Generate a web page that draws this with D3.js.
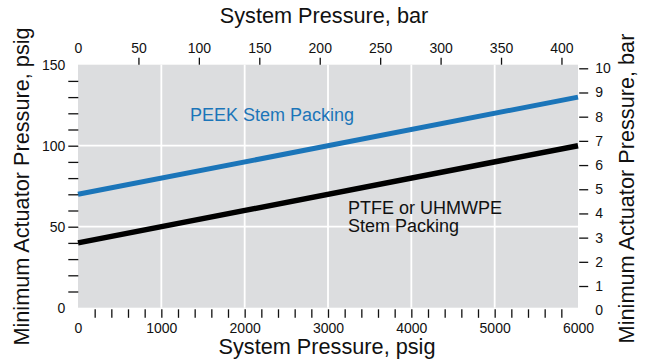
<!DOCTYPE html>
<html>
<head>
<meta charset="utf-8">
<script src="https://cdn.jsdelivr.net/npm/d3@7"></script>
<style>
  html, body { margin: 0; padding: 0; background: #fff; }
  svg { display: block; font-family: "Liberation Sans", Arial, Helvetica, sans-serif; }
</style>
</head>
<body>
<svg id="chart" width="649" height="360"></svg>
<script>
// System pressure (psig) at the ends of each straight-line requirement
const systemPsig = [0, 6000];
// Minimum actuator pressure (psig) for each packing type
const peekPsig = [70, 130];
const ptfePsig = [40, 100];

// Axis ticks and labels
const bottomTicks = d3.range(0, 6001, 200);
const bottomLabels = [0, 1000, 2000, 3000, 4000, 5000, 6000];
const topTicks = [0, 50, 100, 150, 200, 250, 300, 350, 400];
const leftTicks = d3.range(0, 151, 10);
const leftLabels = [0, 50, 100, 150];
const rightTicks = [0, 1, 2, 3, 4, 5, 6, 7, 8, 9, 10];
const gridX = [1000, 2000, 3000, 4000, 5000];
const gridY = [50, 100];

const PSI_PER_BAR = 14.5038;
const BLUE = "#1b75b9";
const INK = "#111";

const svg = d3.select("#chart");
const plot = { left: 78, right: 578, top: 64.7, bottom: 307.7 };

const x = d3.scaleLinear().domain([0, 6000]).range([plot.left, plot.right]);
const y = d3.scaleLinear().domain([0, 150]).range([plot.bottom, plot.top]);
const xBar = d3.scaleLinear().domain([0, 6000 / PSI_PER_BAR]).range([plot.left, plot.right]);
const yBar = d3.scaleLinear().domain([0, 10]).range([310.2, 68.3]);

// Plot background
svg.append("rect")
  .attr("x", plot.left).attr("y", plot.top)
  .attr("width", plot.right - plot.left).attr("height", plot.bottom - plot.top)
  .attr("fill", "#dcdddf");

// White grid
const grid = svg.append("g").attr("stroke", "#fff").attr("stroke-width", 1.8);
grid.selectAll("line.gx").data(gridX).join("line")
  .attr("x1", d => x(d)).attr("x2", d => x(d))
  .attr("y1", plot.top).attr("y2", plot.bottom);
grid.selectAll("line.gy").data(gridY).join("line")
  .attr("x1", plot.left).attr("x2", plot.right)
  .attr("y1", d => y(d)).attr("y2", d => y(d));

// Requirement lines
const line = d3.line().x(d => x(d[0])).y(d => y(d[1]));
svg.append("path")
  .datum(systemPsig.map((p, i) => [p, peekPsig[i]]))
  .attr("d", line).attr("fill", "none")
  .attr("stroke", BLUE).attr("stroke-width", 5);
svg.append("path")
  .datum(systemPsig.map((p, i) => [p, ptfePsig[i]]))
  .attr("d", line).attr("fill", "none")
  .attr("stroke", "#000").attr("stroke-width", 5.5);

// Series labels
svg.append("text").attr("x", 190).attr("y", 121)
  .attr("fill", BLUE).attr("font-size", 18).text("PEEK Stem Packing");
const ptfeLabel = svg.append("text").attr("x", 348).attr("y", 214)
  .attr("fill", INK).attr("font-size", 18);
ptfeLabel.append("tspan").attr("x", 348).text("PTFE or UHMWPE");
ptfeLabel.append("tspan").attr("x", 348).attr("dy", 17.7).text("Stem Packing");

function styleAxis(g) {
  g.select(".domain").remove();
  g.selectAll(".tick line").attr("stroke", INK).attr("stroke-width", 1.3);
  g.selectAll(".tick text").attr("fill", INK).attr("font-size", 14)
    .attr("font-family", "'Liberation Sans', Arial, sans-serif");
}

// Bottom axis: psig
const gBottom = svg.append("g").attr("transform", `translate(0,${plot.bottom + 1.6})`)
  .call(d3.axisBottom(x).tickValues(bottomTicks).tickSize(8.5).tickPadding(5)
    .tickFormat(d => bottomLabels.includes(d) ? d3.format("d")(d) : ""))
  .call(styleAxis);
gBottom.selectAll(".tick").filter(d => d === 0 || d === 6000).select("line").remove();

// Top axis: bar
const gTop = svg.append("g").attr("transform", `translate(0,${plot.top})`)
  .call(d3.axisTop(xBar).tickValues(topTicks).tickSize(7).tickPadding(4.5).tickFormat(d3.format("d")))
  .call(styleAxis);
gTop.selectAll(".tick").filter(d => d === 0).select("line").remove();

// Left axis: psig
const gLeft = svg.append("g").attr("transform", `translate(${plot.left + 0.3},0)`)
  .call(d3.axisLeft(y).tickValues(leftTicks).tickSize(10).tickPadding(3)
    .tickFormat(d => leftLabels.includes(d) ? d3.format("d")(d) : ""))
  .call(styleAxis);
gLeft.selectAll(".tick").filter(d => d === 0 || d === 150).select("line").remove();

// Right axis: bar
const gRight = svg.append("g").attr("transform", `translate(${plot.right + 1.2},0)`)
  .call(d3.axisRight(yBar).tickValues(rightTicks).tickSize(9).tickPadding(7).tickFormat(d3.format("d")))
  .call(styleAxis);
gRight.selectAll(".tick").filter(d => d === 0).select("line").remove();

// Axis titles
const titleSize = 21.7;
svg.append("text").attr("x", 324).attr("y", 23.3).attr("text-anchor", "middle")
  .attr("font-size", titleSize).attr("fill", INK).text("System Pressure, bar");
svg.append("text").attr("x", 327).attr("y", 354).attr("text-anchor", "middle")
  .attr("font-size", titleSize).attr("fill", INK).text("System Pressure, psig");
svg.append("text").attr("transform", "translate(28.5,186.5) rotate(-90)").attr("text-anchor", "middle")
  .attr("font-size", titleSize).attr("fill", INK).text("Minimum Actuator Pressure, psig");
svg.append("text").attr("transform", "translate(633.5,188.5) rotate(-90)").attr("text-anchor", "middle")
  .attr("font-size", titleSize).attr("fill", INK).text("Minimum Actuator Pressure, bar");
</script>
</body>
</html>
